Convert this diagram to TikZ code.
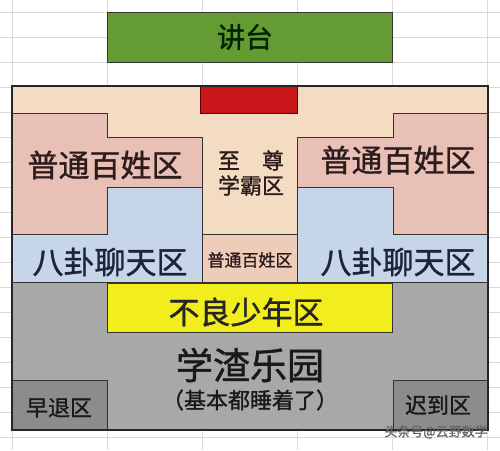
\documentclass[tikz,border=0pt]{standalone}
\usepackage{fontspec}
\newfontfamily\cjk[FakeBold=1.2]{Noto Sans CJK SC}
\definecolor{podium}{RGB}{100,155,50}
\definecolor{peach}{RGB}{244,220,194}
\definecolor{pinkz}{RGB}{232,192,182}
\definecolor{bluez}{RGB}{198,214,232}
\definecolor{midpink}{RGB}{238,204,186}
\definecolor{redz}{RGB}{200,22,26}
\definecolor{yellowz}{RGB}{242,238,30}
\definecolor{grayz}{RGB}{168,168,168}
\definecolor{darkgrayz}{RGB}{140,140,140}
\definecolor{gridc}{RGB}{218,218,218}
\definecolor{ink}{RGB}{45,28,28}
\definecolor{navy}{RGB}{28,36,58}
\tikzset{
  gridline/.style={draw=gridc, line width=0.8pt},
  zone/.style={draw=black!80, line width=0.9pt},
  lbl/.style={font=\cjk, inner sep=0pt, text=ink},
  big/.style={lbl, font=\cjk\fontsize{31}{31}\selectfont},
  mid/.style={lbl, font=\cjk\fontsize{22}{25}\selectfont},
}
\begin{document}
\begin{tikzpicture}[x=1pt,y=-1pt]
\useasboundingbox (0,0) rectangle (500,450);
\fill[white] (0,0) rectangle (500,450);
% spreadsheet grid
\foreach \gx in {12,107,202,297,392,487} \draw[gridline] (\gx,0) -- (\gx,450);
\foreach \gy in {12,37,...,437} \draw[gridline] (0,\gy) -- (500,\gy);
% podium
\draw[zone, fill=podium] (107,12) rectangle (392,62);
\node[lbl, font=\cjk\fontsize{28}{28}\selectfont, text=black!85!green] (podiumtxt) at (245,37) {讲台};
% main area base
\fill[peach] (12,86) rectangle (488,282);
% left zones
\draw[zone, fill=pinkz] (12,113) -- (107,113) -- (107,137) -- (202,137) -- (202,187) -- (107,187) -- (107,234) -- (12,234) -- cycle;
\draw[zone, fill=bluez] (12,234) -- (107,234) -- (107,187) -- (202,187) -- (202,282) -- (12,282) -- cycle;
% right zones
\draw[zone, fill=pinkz] (297,137) -- (393,137) -- (393,113) -- (488,113) -- (488,234) -- (393,234) -- (393,187) -- (297,187) -- cycle;
\draw[zone, fill=bluez] (297,187) -- (393,187) -- (393,234) -- (488,234) -- (488,282) -- (297,282) -- cycle;
% centre column
\draw[zone, fill=midpink] (202,234) rectangle (297,282);
\draw[zone, fill=redz, draw=red!40!black] (200,86) rectangle (297,113);
% bottom
\draw[zone, fill=grayz] (12,282) rectangle (488,430);
\draw[zone, fill=yellowz] (107,283) rectangle (392,332);
\draw[zone, fill=darkgrayz] (12,380) rectangle (107,430);
\draw[zone, fill=darkgrayz] (393,380) rectangle (488,430);
\draw[draw=black!85, line width=1.4pt] (12,86) rectangle (488,430);
% labels
\node[big] (lpink) at (105,165) {普通百姓区};
\node[big, text=navy] (lblue) at (110,262) {八卦聊天区};
\node[big] (rpink) at (398,160) {普通百姓区};
\node[big, text=navy] (rblue) at (398,262) {八卦聊天区};
\node[mid, align=center] (xueba) at (251,173) {至\hspace{1em}尊\\学霸区};
\node[lbl, font=\cjk\fontsize{17}{17}\selectfont] (cpink) at (250,260) {普通百姓区};
\node[big, text=black!85] (buliang) at (246,312) {不良少年区};
\node[lbl, font=\cjk\fontsize{37}{37}\selectfont, text=black!90] (xuezha) at (250,365) {学渣乐园};
\node[mid, text=black!90] (shuizhao) at (250,400) {（基本都睡着了）};
\node[mid, text=black!90] (zaotui) at (59,408) {早退区};
\node[mid, text=black!90] (chidao) at (438,405) {迟到区};
\node[lbl, font=\cjk\fontsize{13}{13}\selectfont, text=black!60] (wm) at (436,432) {头条号@云野数学};
\end{tikzpicture}
\end{document}
